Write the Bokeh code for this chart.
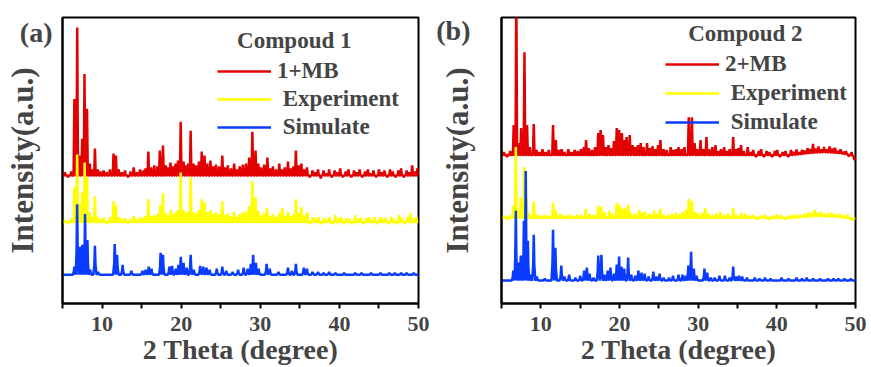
import numpy as np
from bokeh.plotting import figure
from bokeh.models import Range1d, FixedTicker, Legend, LegendItem, Label
from bokeh.layouts import row
from bokeh.embed import file_html
from bokeh.resources import INLINE

# ---------------- data (2-theta positions, peak heights above baseline) -------------
X_MIN, X_MAX = 5, 50
X_TICKS = [10, 20, 30, 40, 50]
X_MINOR = [5, 15, 25, 35, 45]

# Panel (a) — Compound 1
red_a_pos = [5.3, 5.7, 6.1, 6.5, 6.86, 7.2, 7.49, 7.78, 8.1, 8.45, 8.8, 9.1, 9.45, 9.8, 10.2, 10.6, 11.0, 11.45, 11.75, 12.1,
             12.5, 12.9, 13.3, 13.6, 14.0, 14.4, 14.8, 15.2, 15.5, 15.85, 16.2, 16.6, 17.0, 17.3, 17.7, 18.05, 18.35, 18.65, 19.0, 19.3,
             19.6, 19.94, 20.3, 20.6, 20.9, 21.2, 21.55, 21.9, 22.25, 22.6, 22.95, 23.3, 23.7, 24.05, 24.4, 24.8, 25.2, 25.55, 25.9, 26.3,
             26.7, 27.05, 27.4, 27.8, 28.2, 28.6, 29.0, 29.4, 29.75, 30.1, 30.5, 30.9, 31.25, 31.6, 32.0, 32.4, 32.75, 33.1, 33.5, 33.85,
             34.2, 34.5, 34.85, 35.2, 35.55, 35.9, 36.25, 36.6, 36.95, 37.3, 37.65, 38.0, 38.35, 38.7, 39.05, 39.4, 39.75, 40.1, 40.45, 40.8,
             41.15, 41.5, 41.85, 42.2, 42.55, 42.9, 43.25, 43.6, 43.95, 44.3, 44.65, 45.0, 45.35, 45.7, 46.05, 46.4, 46.75, 47.1, 47.45, 47.8,
             48.15, 48.5, 48.85, 49.2, 49.55, 49.85]
red_a_ht = [3, -2, 4, 77, 149, 20, 37, 102, 67, 12, 6, 27, 6, 4, 5, 3, 6, 22, 20, 6,
            3, 5, -2, 4, 8, 3, 6, 5, 7, 24, 8, 10, 9, 25, 30, 10, 8, 13, 9, 12,
            15, 54, 14, 10, 12, 45, 12, 10, 14, 24, 20, 12, 15, 9, 11, 9, 20, 8, 10, 7,
            12, 6, 9, 11, 12, 18, 44, 25, 12, 8, 11, 18, 7, 9, 6, 12, 6, 8, 14, 7,
            9, 25, 10, 12, 6, 8, -2, 5, 3, 6, -3, 5, 2, 6, -2, 5, 3, 7, -2, 4,
            6, -2, 5, 3, 6, -2, 4, 6, 2, 5, -2, 6, 3, 5, -2, 6, 4, -2, 5, 7,
            -2, 5, 3, 10, 4, 7]
red_a_base = 129

yel_a_pos = [5.3, 5.7, 6.1, 6.5, 6.85, 7.2, 7.5, 7.8, 8.1, 8.45, 8.8, 9.1, 9.45, 9.8, 10.2, 10.6, 11.0, 11.45, 11.75, 12.1,
             12.5, 12.9, 13.3, 13.6, 14.0, 14.4, 14.8, 15.2, 15.5, 15.85, 16.2, 16.6, 17.0, 17.35, 17.7, 18.05, 18.35, 18.7, 19.0, 19.3,
             19.6, 19.94, 20.3, 20.6, 20.9, 21.2, 21.55, 21.9, 22.25, 22.6, 22.95, 23.3, 23.7, 24.05, 24.4, 24.8, 25.2, 25.55, 25.9, 26.3,
             26.7, 27.05, 27.4, 27.8, 28.2, 28.6, 29.0, 29.4, 29.75, 30.1, 30.5, 30.85, 31.25, 31.6, 32.0, 32.4, 32.8, 33.15, 33.5, 33.85,
             34.2, 34.5, 34.85, 35.2, 35.55, 35.95, 36.3, 36.65, 37.0, 37.35, 37.7, 38.05, 38.4, 38.75, 39.1, 39.5, 39.85, 40.2, 40.55, 40.9,
             41.25, 41.6, 42.0, 42.35, 42.7, 43.05, 43.4, 43.75, 44.1, 44.45, 44.8, 45.15, 45.5, 45.85, 46.2, 46.55, 46.9, 47.25, 47.55, 47.9,
             48.25, 48.6, 49.0, 49.35, 49.7]
yel_a_ht = [2, -2, 3, 35, 68, 18, 30, 60, 45, 10, 5, 26, 5, 3, 4, -2, 5, 21, 17, 5,
            3, 4, -2, 3, 6, 2, 5, 4, 6, 23, 6, 7, 8, 17, 29, 9, 7, 12, 8, 10,
            12, 50, 12, 9, 10, 45, 10, 9, 12, 23, 20, 10, 12, 8, 10, 8, 21, 7, 9, 6,
            10, 5, 8, 10, 11, 16, 41, 25, 11, 7, 9, 14, 6, 8, 5, 9, 14, 6, 10, 6,
            8, 23, 9, 15, 7, 10, -2, 5, 3, 5, -2, 4, 2, 5, -2, 7, 3, 5, -2, 4,
            3, -2, 7, 3, 4, -2, 4, 5, 2, 5, -2, 5, 3, 4, -2, 5, 3, -2, 7, 4,
            -2, 5, 9, 3, 5]
yel_a_base = 82

blu_a_pos = [6.5, 6.85, 7.2, 7.5, 7.85, 8.15, 8.5, 9.1, 9.5, 11.6, 11.9, 12.6, 13.7, 15.1, 15.5, 15.9, 16.25, 17.4, 17.7, 18.5,
             18.85, 19.3, 19.65, 19.95, 20.3, 20.7, 21.2, 21.6, 22.4, 22.8, 23.2, 23.6, 24.5, 25.2, 25.7, 26.5, 27.2, 27.9, 28.4, 28.8,
             29.1, 29.45, 29.8, 30.8, 31.2, 32.3, 33.5, 34.0, 34.5, 35.5, 35.9, 36.6, 37.3, 38.0, 38.7, 39.5, 40.6, 42.0, 42.8, 44.0,
             45.2, 46.3, 47.0, 47.8, 48.5, 49.4]
blu_a_ht = [8, 71, 28, 30, 61, 35, 5, 29, 3, 31, 20, 10, 4, 4, 5, 8, 6, 22, 20, 8,
            9, 6, 10, 18, 12, 7, 20, 5, 9, 8, 7, 5, 6, 8, 4, 3, 5, 7, 6, 11,
            20, 12, 6, 11, 6, 3, 7, 4, 11, 7, 6, 3, 3, 2, 3, 2, 2, 2, 2, 2,
            2, 2, 2, 2, 2, 2]
blu_a_base = 29

# Panel (b) — Compound 2
red_b_pos = [5.3, 5.7, 6.1, 6.55, 6.88, 7.2, 7.5, 7.92, 8.25, 8.6, 9.1, 9.45, 9.8, 10.2, 10.6, 11.0, 11.55, 11.9, 12.3, 12.65,
             13.0, 13.5, 13.9, 14.3, 14.7, 15.1, 15.45, 15.75, 16.1, 16.5, 16.9, 17.3, 17.6, 17.9, 18.25, 18.6, 18.95, 19.3, 19.65, 19.95,
             20.3, 20.6, 20.9, 21.3, 21.65, 22.0, 22.35, 22.7, 23.05, 23.5, 23.85, 24.2, 24.55, 24.9, 25.2, 25.6, 26.0, 26.5, 26.85, 27.2,
             27.5, 27.9, 28.25, 28.8, 29.2, 29.55, 29.9, 30.3, 30.65, 31.05, 31.4, 31.8, 32.2, 32.55, 32.9, 33.3, 33.65, 34.0, 34.45, 34.8,
             35.1, 35.45, 35.8, 36.3, 36.65, 37.0, 37.35, 37.7, 38.0, 38.35, 38.7, 39.05, 39.4, 39.75, 40.05, 40.4, 40.75, 41.1, 41.45, 41.8,
             42.15, 42.5, 42.85, 43.2, 43.55, 43.9, 44.25, 44.6, 44.95, 45.3, 45.65, 46.0, 46.35, 46.7, 47.05, 47.4, 47.75, 48.1, 48.45, 48.8,
             49.15, 49.5, 49.85]
red_b_ht = [3, -2, 4, 30, 170, 12, 27, 103, 30, 8, 31, 5, 3, 6, 3, 5, 30, 15, 5, 6,
            3, 6, 3, 5, 4, 6, 8, 15, 7, 5, 8, 22, 25, 20, 8, 10, 7, 14, 27, 25,
            22, 15, 18, 20, 10, 8, 10, 12, 8, 12, 7, 9, 6, 10, 15, 6, 5, 8, 5, 6,
            8, 6, 8, 38, 38, 12, 6, 15, 6, 18, 6, 8, 10, 4, 6, 8, 4, 6, 18, 6,
            7, 10, 4, 8, 3, 5, -2, 4, 6, -2, 4, 3, -2, 4, 5, -2, 3, 4, -2, 5,
            3, 5, 2, 4, 3, 5, 4, 9, 4, 6, 3, 5, 3, 6, 4, 5, 2, 4, 2, 3,
            -2, 3, -3]
red_b_base = 149
red_b_drift_x = [5, 42, 44, 46, 48, 49.5, 50]
red_b_drift_y = [0, 0, 2, 3, 2, 0, -3]

yel_b_pos = [5.3, 5.7, 6.1, 6.5, 6.82, 7.15, 7.45, 7.88, 8.2, 8.55, 9.1, 9.5, 10.0, 10.5, 11.0, 11.55, 11.9, 12.5, 13.0, 13.5,
             14.0, 14.6, 15.1, 15.7, 16.2, 16.7, 17.3, 17.7, 18.1, 18.7, 19.1, 19.65, 20.0, 20.35, 20.7, 21.1, 21.5, 22.0, 22.5, 22.9,
             23.2, 23.7, 24.0, 24.4, 24.8, 25.2, 25.6, 26.2, 26.7, 27.2, 27.6, 28.0, 28.45, 28.8, 29.2, 29.6, 30.0, 30.5, 30.9, 31.3,
             31.8, 32.3, 32.8, 33.3, 33.8, 34.45, 34.9, 35.5, 36.0, 36.5, 37.0, 37.5, 38.0, 38.5, 39.0, 39.5, 40.0, 40.5, 41.0, 41.5,
             42.0, 42.5, 43.0, 43.5, 44.0, 44.4, 44.8, 45.2, 45.6, 46.0, 46.5, 47.0, 47.5, 48.0, 48.5, 49.0, 49.5]
yel_b_ht = [2, -2, 2, 12, 71, 8, 20, 51, 20, 4, 16, 3, 2, 3, 2, 15, 7, 4, 2, 3,
            2, 3, 3, 9, 4, 3, 12, 11, 5, 7, 4, 15, 13, 9, 10, 13, 5, 4, 8, 5,
            6, 4, 3, 7, 4, 9, 3, 3, 4, 5, 3, 6, 8, 19, 17, 6, 4, 5, 10, 4,
            3, 4, 6, 3, 4, 10, 3, 5, 4, 2, 3, -2, 2, 3, -2, 2, 3, 3, -2, 2,
            3, 3, 2, 3, 4, 3, 6, 3, 4, 2, 3, 4, 2, 3, 2, 3, -2]
yel_b_base = 86
yel_b_drift_x = [5, 42, 45, 48, 50]
yel_b_drift_y = [0, 0, 2, 1, -1]

blu_b_pos = [6.5, 6.82, 7.15, 7.45, 7.85, 8.08, 8.35, 8.7, 9.1, 9.5, 10.5, 11.55, 11.85, 12.6, 13.0, 13.6, 14.4, 15.0, 15.5, 15.85,
             16.2, 16.7, 17.3, 17.7, 18.1, 18.5, 18.85, 19.3, 19.65, 19.95, 20.25, 20.6, 21.1, 21.5, 22.0, 22.4, 22.8, 23.2, 23.7, 24.3,
             24.7, 25.1, 25.6, 26.3, 26.8, 27.5, 28.0, 28.4, 28.75, 29.1, 29.45, 29.8, 30.8, 31.15, 31.6, 32.1, 32.7, 33.4, 34.0, 34.45,
             34.85, 35.2, 35.6, 36.2, 37.2, 37.8, 38.5, 39.2, 40.6, 41.5, 42.5, 43.2, 43.8, 44.6, 45.5, 46.5, 47.2, 47.8, 48.6, 49.4]
blu_b_ht = [10, 70, 18, 25, 60, 110, 40, 6, 46, 4, 2, 51, 33, 15, 4, 6, 3, 5, 10, 13,
            7, 3, 25, 26, 6, 10, 13, 7, 16, 24, 14, 12, 23, 6, 5, 10, 8, 7, 4, 9,
            4, 7, 3, 3, 5, 6, 6, 5, 15, 29, 12, 5, 12, 8, 3, 3, 5, 5, 3, 14,
            4, 5, 4, 3, 3, 2, 3, 2, 3, 2, 3, 2, 3, 2, 2, 2, 2, 2, 2, 2]
blu_b_base = 23

SERIES_LABELS_A = ["1+MB", " Experiment", " Simulate"]
SERIES_LABELS_B = ["2+MB", " Experiment", " Simulate"]
COLORS = ["#E30000", "#FFFF00", "#0A3CFF"]

FONT = "Liberation Serif"


def profile(pos, hts, base, half, shoulder=None, drift_x=None, drift_y=None):
    order = np.argsort(pos)
    P = np.asarray(pos, float)[order]
    H = np.asarray(hts, float)[order]
    xs, ys = [X_MIN], [0.0]
    n = len(P)
    for i in range(n):
        x, h = P[i], H[i]
        lo = x - half if i == 0 else max(x - half, (P[i - 1] + x) / 2)
        hi = x + half if i == n - 1 else min(x + half, (P[i + 1] + x) / 2)
        xs.append(lo); ys.append(0.0)
        if shoulder:
            xs.append(max(lo, x - shoulder[0])); ys.append(h * shoulder[1])
        xs.append(x); ys.append(h)
        if shoulder:
            xs.append(min(hi, x + shoulder[0])); ys.append(h * shoulder[1])
        xs.append(hi); ys.append(0.0)
    xs.append(X_MAX); ys.append(0.0)
    xs = np.array(xs); ys = np.array(ys) + base
    if drift_x is not None:
        ys = ys + np.interp(xs, drift_x, drift_y)
    return xs, ys


def make_panel(width, left, right, bottom, ytop, series, labels, title, tag, title_xy, tag_y, tag_standoff,
               leg_loc, ystandoff, spacing):
    p = figure(width=width, height=367, output_backend="svg", toolbar_location=None,
               x_range=Range1d(X_MIN, X_MAX), y_range=Range1d(0, ytop),
               min_border_left=left, min_border_right=right, min_border_top=17, min_border_bottom=bottom)
    p.grid.visible = False
    p.outline_line_color = "black"
    p.outline_line_width = 2
    p.background_fill_color = "white"
    p.border_fill_color = "white"

    rends = []
    for (xs, ys), c in zip(series, COLORS):
        rends.append(p.line(xs, ys, line_color=c, line_width=2.5))

    xa = p.xaxis[0]
    xa.ticker = FixedTicker(ticks=X_TICKS, minor_ticks=X_MINOR)
    xa.axis_label = "2 Theta (degree)"
    xa.axis_label_text_font = FONT
    xa.axis_label_text_font_style = "bold"
    xa.axis_label_text_font_size = "28px"
    xa.axis_label_standoff = 0
    xa.major_label_text_font = FONT
    xa.major_label_text_font_style = "bold"
    xa.major_label_text_font_size = "22px"
    xa.major_label_standoff = 8
    xa.axis_line_width = 2
    xa.major_tick_line_width = 2
    xa.minor_tick_line_width = 2
    xa.major_tick_in = 0
    xa.major_tick_out = 5
    xa.minor_tick_in = 0
    xa.minor_tick_out = 5

    # the panel tag "(a)"/"(b)" sits beside the frame as the y axis' only tick label
    ya = p.yaxis[0]
    ya.ticker = FixedTicker(ticks=[tag_y])
    ya.major_label_overrides = {tag_y: tag}
    ya.major_label_text_font = FONT
    ya.major_label_text_font_style = "bold"
    ya.major_label_text_font_size = "28px"
    ya.major_label_standoff = tag_standoff
    ya.axis_label = "Intensity(a.u.)"
    ya.axis_label_text_font = FONT
    ya.axis_label_text_font_style = "bold"
    ya.axis_label_text_font_size = "31px"
    ya.axis_label_standoff = ystandoff
    ya.axis_line_width = 2
    ya.major_tick_line_color = None
    ya.minor_tick_line_color = None

    legend = Legend(items=[LegendItem(label=l, renderers=[r]) for l, r in zip(labels, rends)],
                    location=leg_loc, glyph_width=54, glyph_height=20, label_height=20,
                    spacing=spacing, padding=0, margin=0, label_standoff=6,
                    border_line_alpha=0, background_fill_alpha=0,
                    label_text_font=FONT, label_text_font_style="bold", label_text_font_size="23px")
    p.add_layout(legend, "center")

    p.add_layout(Label(x=title_xy[0], y=title_xy[1], text=title, text_font=FONT, text_font_style="bold",
                       text_font_size="23px", text_align="center", text_baseline="middle"))
    return p


series_a = [profile(red_a_pos, red_a_ht, red_a_base, 0.1),
            profile(yel_a_pos, yel_a_ht, yel_a_base, 0.1),
            profile(blu_a_pos, blu_a_ht, blu_a_base, 0.2, shoulder=(0.07, 0.35))]
series_b = [profile(red_b_pos, red_b_ht, red_b_base, 0.1, drift_x=red_b_drift_x, drift_y=red_b_drift_y),
            profile(yel_b_pos, yel_b_ht, yel_b_base, 0.1, drift_x=yel_b_drift_x, drift_y=yel_b_drift_y),
            profile(blu_b_pos, blu_b_ht, blu_b_base, 0.2, shoulder=(0.07, 0.35))]

pa = make_panel(433, 62, 15, 62, 288, series_a, SERIES_LABELS_A, "Compoud 1", "(a)",
                (34.3, 265), 273, 4, (155, 163), -23, 2)
pb = make_panel(438, 68, 16, 63, 287, series_b, SERIES_LABELS_B, "Compoud 2", "(b)",
                (36.0, 271), 274, 25, (164, 168), -42, 3)

layout = row(pa, pb)
open("out.html", "w").write(file_html(layout, INLINE))
